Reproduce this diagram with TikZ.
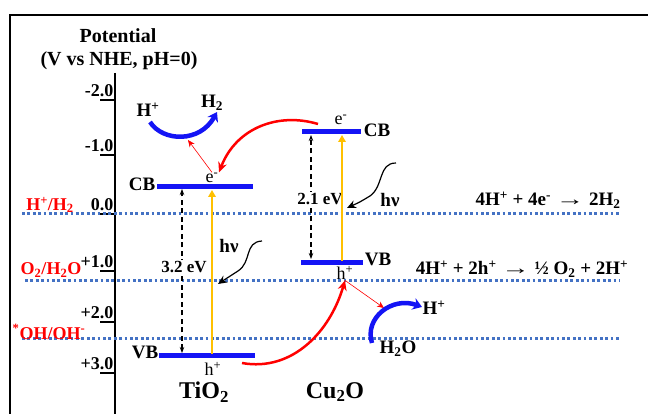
\documentclass[tikz,border=0pt]{standalone}
\usepackage{fontspec}
\setmainfont{Liberation Serif}
\usetikzlibrary{arrows.meta}
\definecolor{barblue}{RGB}{20,20,245}
\definecolor{dotblue}{RGB}{68,114,196}
\definecolor{orng}{RGB}{255,192,0}
\newcommand\longarr{\scalebox{1.5}[1]{→}}
\begin{document}
\begin{tikzpicture}[x=1pt,y=-1pt,
  lbl/.style={font=\fontsize{19}{22}\selectfont\bfseries, inner sep=0pt},
  ticklbl/.style={font=\fontsize{18}{21}\selectfont\bfseries, inner sep=0pt, anchor=base east},
  redlbl/.style={font=\fontsize{18}{21}\selectfont\bfseries, inner sep=0pt, text=red},
  carrier/.style={font=\fontsize{18}{21}\selectfont, inner sep=0.5pt},
  gaplbl/.style={font=\fontsize{17}{20}\selectfont\bfseries, inner sep=1pt, fill=white},
  mat/.style={font=\fontsize{24}{28}\selectfont\bfseries, inner sep=0pt},
  band/.style={line width=5pt, barblue},
  level/.style={line width=3pt, dotblue, dash pattern=on 2.8pt off 2.6pt},
  excite/.style={line width=2.6pt, orng, -{Triangle[length=7pt,width=7.5pt]}},
  gap/.style={line width=1.3pt, dash pattern=on 5pt off 3.5pt, {Stealth[length=6pt]}-{Stealth[length=6pt]}},
  wave/.style={line width=1.2pt, -{Stealth[length=9pt,width=8pt]}},
  transfer/.style={line width=2.5pt, red, -{Stealth[length=10pt,width=9pt]}},
  thinred/.style={line width=0.6pt, red, -{Stealth[length=7pt,width=6pt]}},
  redox/.style={line width=4.5pt, barblue, -{Stealth[length=9pt,width=12pt]}}]
\useasboundingbox (0,0) rectangle (649,414);
% frame
\draw[line width=2.7pt] (10,414) -- (10,15) -- (648,15);
% title
\node[lbl, font=\fontsize{20}{24}\selectfont\bfseries] (pot) at (118,36) {Potential};
\node[lbl, font=\fontsize{20}{24}\selectfont\bfseries] (vs) at (119,61) {(V vs NHE, pH=0)};
% axis
\draw[line width=2.5pt] (115,73) -- (115,414);
\foreach \y/\t in {100/-2.0,155/-1.0,214/0.0,271/+1.0,322/+2.0,373/+3.0}{
  \draw[line width=2.5pt] (100,\y) -- (115,\y);
  \node[ticklbl] at (113.5,\y-3) {\t};
}
% redox levels
\draw[level] (22,214) -- (620,214);
\draw[level] (25,281) -- (620,281);
\draw[level] (22,339) -- (620,339);
\node[redlbl] (hh) at (50,205) {H\textsuperscript{+}/H\textsubscript{2}};
\node[redlbl] (oo) at (51,270) {O\textsubscript{2}/H\textsubscript{2}O};
\node[redlbl] (oh) at (49,332) {\textsuperscript{*}OH/OH\textsuperscript{-}};
% TiO2 bands
\coordinate (tcbL) at (157,187); \coordinate (tcbR) at (253,187);
\coordinate (tvbL) at (159,356); \coordinate (tvbR) at (255,356);
\draw[band] (tcbL) -- (tcbR);
\draw[band] (tvbL) -- (tvbR);
\node[lbl] (tcb) at (142,184) {CB};
\node[lbl] (tvb) at (145,352) {VB};
\coordinate (tgb) at (182,353); \coordinate (tgt) at (182,189);
\draw[gap] (tgb) -- (tgt);
\node[gaplbl] (tg) at (184,267) {3.2 eV};
\coordinate (texb) at (212,354); \coordinate (text) at (212,190);
\draw[excite] (texb) -- (text);
\node[carrier] (te) at (212,178) {e\textsuperscript{-}};
\node[carrier] (th) at (213,369) {h\textsuperscript{+}};
\node[lbl] (thv) at (229,246) {hν};
\coordinate (tw0) at (262,241); \coordinate (tw1) at (218,284);
\draw[wave] (tw0) .. controls (244,242) and (252,262) .. (238,271) .. controls (230,276) .. (tw1);
\node[mat] (tio) at (204,392) {TiO\textsubscript{2}};
% Cu2O bands
\coordinate (ccbL) at (302,132); \coordinate (ccbR) at (361,132);
\coordinate (cvbL) at (301,263); \coordinate (cvbR) at (363,263);
\draw[band] (ccbL) -- (ccbR);
\draw[band] (cvbL) -- (cvbR);
\node[lbl] (ccb) at (377,130) {CB};
\node[lbl] (cvb) at (378,259) {VB};
\coordinate (cgb) at (311,259); \coordinate (cgt) at (311,135);
\draw[gap] (cgb) -- (cgt);
\node[gaplbl] (cg) at (320,199) {2.1 eV};
\coordinate (cexb) at (342,261); \coordinate (cext) at (342,135);
\draw[excite] (cexb) -- (cext);
\node[carrier, fill=white, circle, inner sep=0pt, minimum size=16pt] (ce) at (341,120) {e\textsuperscript{-}};
\node[carrier] (ch) at (345,273) {h\textsuperscript{+}};
\node[lbl] (chv) at (390,200) {hν};
\coordinate (cw0) at (396,163); \coordinate (cw1) at (347,208);
\draw[wave] (cw0) .. controls (378,163) and (384,186) .. (370,196) .. controls (360,202) .. (cw1);
\node[mat] (cuo) at (335,392) {Cu\textsubscript{2}O};
% electron / hole transfer
\coordinate (ts) at (318,124);
\draw[transfer] (ts) .. controls (278,112) and (236,128) .. (te.north east);
\coordinate (bs) at (242,363);
\draw[transfer] (bs) .. controls (292,372) and (330,332) .. (ch.south);
\coordinate (h2t) at (188,140);
\draw[thinred] (te.north) -- (h2t);
\coordinate (oxt) at (384,308);
\draw[thinred] (ch.south) -- (oxt);
% H+ -> H2
\node[lbl] (hp) at (148,110) {H\textsuperscript{+}};
\node[lbl] (h2) at (212,103) {H\textsubscript{2}};
\coordinate (r0) at (150,122);
\draw[redox] (r0) .. controls (163,142) and (200,143) .. (217,112);
% H2O -> H+
\node[lbl] (hp2) at (434,308) {H\textsuperscript{+}};
\node[lbl] (h2o) at (398,349) {H\textsubscript{2}O};
\coordinate (s0) at (372,343);
\draw[redox] (s0) .. controls (364,318) and (392,296) .. (422,307);
% equations
\node[lbl] (eq1) at (548,200) {4H\textsuperscript{+} + 4e\textsuperscript{-} \longarr{} 2H\textsubscript{2}};
\node[lbl] (eq2) at (522,269) {4H\textsuperscript{+} + 2h\textsuperscript{+} \longarr{} ½ O\textsubscript{2} + 2H\textsuperscript{+}};
\end{tikzpicture}
\end{document}
